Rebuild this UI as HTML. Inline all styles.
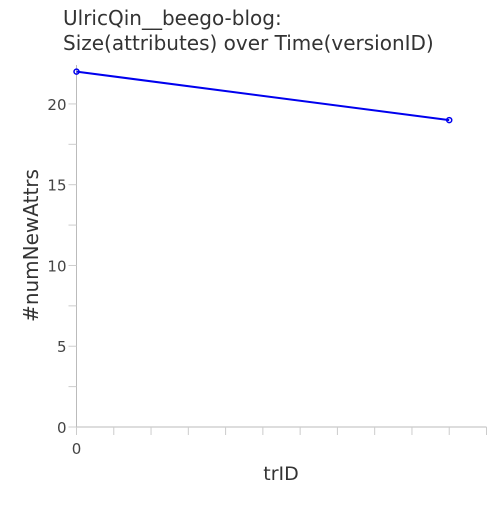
<!DOCTYPE html>
<html><head><style>body{margin:0;background:#fff}svg{font-family:"DejaVu Sans",sans-serif}</style></head>
<body>
<svg id="c" width="500" height="500">
<text x="63" y="25" font-size="20" fill="#333">UlricQin__beego-blog:</text>
<text x="63" y="50" font-size="20" fill="#333">Size(attributes) over Time(versionID)</text>
<text x="281" y="480" font-size="19" fill="#333" text-anchor="middle">trID</text>
<text transform="translate(38,245.5) rotate(-90)" font-size="20" fill="#333" text-anchor="middle">#numNewAttrs</text>
</svg>
<script>
const xValues=[0,10];
const yValues=[22,19];
const yTickLabels=[0,5,10,15,20];
const xTickLabels=[0];
const X0=76.5,X1=486.5,Y0=427,Y1=65,xMax=11,yMax=22.41;
const sx=v=>X0+(X1-X0)*v/xMax, sy=v=>Y0-(Y0-Y1)*v/yMax;
const svg=document.getElementById('c');const NS='http://www.w3.org/2000/svg';
function mk(t,a){const e=document.createElementNS(NS,t);for(const k in a)e.setAttribute(k,a[k]);svg.appendChild(e);return e;}
let e;
e=mk('line',{x1:X0,y1:Y1,x2:X0,y2:Y0+8,stroke:'#bbb'});


e=mk('line',{x1:X0-8,y1:Y0,x2:X1,y2:Y0,stroke:'#bbb'});


for(let i=0;i<=xMax;i++){e=mk('line',{x1:sx(i),y1:Y0,x2:sx(i),y2:Y0+8,stroke:'#ccc'});

}
for(let v=0;v<=yMax;v+=2.5){e=mk('line',{x1:X0-8,y1:sy(v),x2:X0,y2:sy(v),stroke:'#ccc'});

}
yTickLabels.forEach(v=>{e=mk('text',{x:X0-10,y:sy(v)+6,'font-size':15,fill:'#444','text-anchor':'end'});e.textContent=v;

});
xTickLabels.forEach(v=>{e=mk('text',{x:sx(v),y:Y0+27,'font-size':15,fill:'#444','text-anchor':'middle'});e.textContent=v;

});
e=mk('polyline',{points:xValues.map((x,i)=>sx(x)+','+sy(yValues[i])).join(' '),fill:'none',stroke:'#0000ee','stroke-width':2});


xValues.forEach((x,i)=>{e=mk('circle',{cx:sx(x),cy:sy(yValues[i]),r:2.5,fill:'none',stroke:'#0000ee','stroke-width':1.5});

});
</script>
</body></html>
